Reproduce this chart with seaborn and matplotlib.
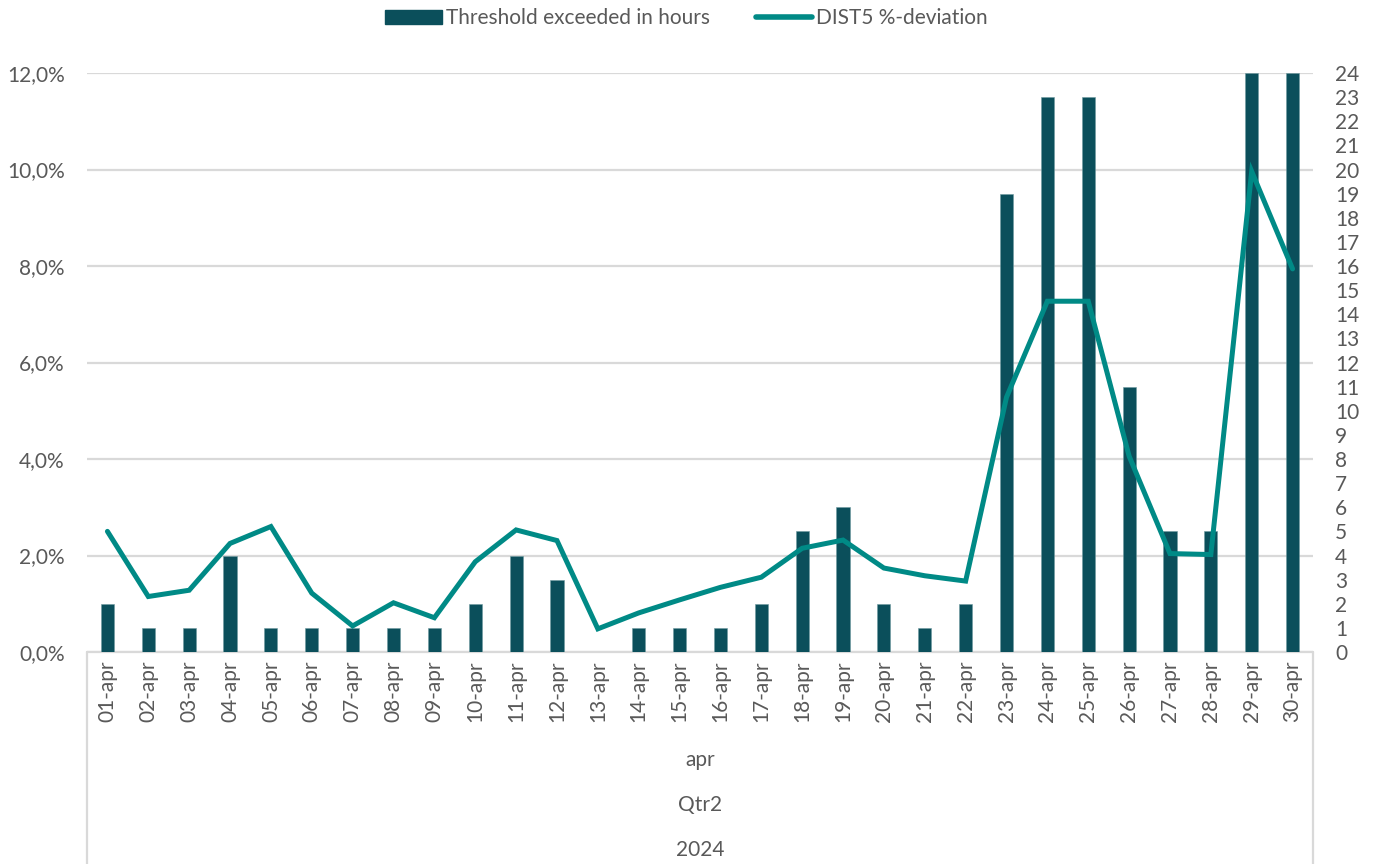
import matplotlib
matplotlib.use("Agg")
import matplotlib.pyplot as plt
import seaborn as sns
import pandas as pd
from matplotlib.ticker import MultipleLocator, FuncFormatter
from matplotlib.patches import Patch
from matplotlib.lines import Line2D

# ---------------- data ----------------
days = ["01-apr", "02-apr", "03-apr", "04-apr", "05-apr", "06-apr", "07-apr", "08-apr",
        "09-apr", "10-apr", "11-apr", "12-apr", "13-apr", "14-apr", "15-apr", "16-apr",
        "17-apr", "18-apr", "19-apr", "20-apr", "21-apr", "22-apr", "23-apr", "24-apr",
        "25-apr", "26-apr", "27-apr", "28-apr", "29-apr", "30-apr"]
hours_exceeded = [2, 1, 1, 4, 1, 1, 1, 1, 1, 2, 4, 3, 0, 1, 1, 1,
                  2, 5, 6, 2, 1, 2, 19, 23, 23, 11, 5, 5, 24, 24]
dist5_deviation = [2.50, 1.15, 1.28, 2.25, 2.60, 1.22, 0.54, 1.02, 0.71, 1.87, 2.53, 2.31,
                   0.48, 0.81, 1.08, 1.34, 1.55, 2.15, 2.32, 1.74, 1.58, 1.47, 5.28, 7.27,
                   7.27, 4.06, 2.04, 2.02, 9.96, 7.94]
hierarchy_labels = ["apr", "Qtr2", "2024"]
bar_label = "Threshold exceeded in hours"
line_label = "DIST5 %-deviation"

df = pd.DataFrame({"day": days, "hours": hours_exceeded, "dev": dist5_deviation})

# ---------------- style ----------------
BAR_C = "#0B4F5B"
LINE_C = "#008A86"
TXT_C = "#595959"
GRID_C = "#D9D9D9"
FS = 15

sns.set_theme(style="white")
plt.rcParams["font.family"] = ["Lato", "DejaVu Sans"]
plt.rcParams["text.color"] = TXT_C
plt.rcParams["xtick.color"] = TXT_C
plt.rcParams["ytick.color"] = TXT_C

fig = plt.figure(figsize=(13.73, 8.64), dpi=100)
ax = fig.add_axes([87 / 1373, 212 / 864, 1226 / 1373, 579 / 864])  # bars (hours), right ticks
ax2 = ax.twinx()  # line (percent), left ticks

sns.barplot(data=df, x="day", y="hours", ax=ax, color=BAR_C, width=0.32,
            saturation=1, edgecolor="#6F9AA0", linewidth=0.4, zorder=2)
sns.lineplot(data=df, x="day", y="dev", ax=ax2, color=LINE_C, linewidth=3.6,
             sort=False, zorder=3, solid_joinstyle="miter")

ax.set_xlim(-0.5, len(days) - 0.5)
ax.set_ylim(0, 24)
ax2.set_ylim(0, 12)

# hours axis on the right
ax.yaxis.tick_right()
ax.yaxis.set_label_position("right")
ax.yaxis.set_major_locator(MultipleLocator(1))
ax.yaxis.set_minor_locator(MultipleLocator(4))
ax.yaxis.remove_overlapping_locs = False
ax.grid(False)
ax.grid(which="minor", axis="y", color=GRID_C, linewidth=1.6, zorder=0)
ax.tick_params(axis="y", which="both", length=0, pad=16, labelsize=FS, colors=TXT_C)
ax.set_axisbelow(True)

# percent axis on the left
ax2.yaxis.tick_left()
ax2.yaxis.set_label_position("left")
ax2.yaxis.set_major_locator(MultipleLocator(2))
ax2.yaxis.set_major_formatter(FuncFormatter(lambda v, p: f"{v:.1f}%".replace(".", ",")))
ax2.tick_params(axis="y", length=0, pad=16, labelsize=FS, colors=TXT_C)
ax2.grid(False)

ax.set_xlabel("")
ax.set_ylabel("")
ax2.set_xlabel("")
ax2.set_ylabel("")
ax.tick_params(axis="x", length=0, pad=6, labelsize=FS, labelrotation=90, colors=TXT_C)
for lab in ax.get_xticklabels():
    lab.set_va("top")

for a in (ax, ax2):
    for s in a.spines.values():
        s.set_visible(False)

# category axis frame (Excel multi-level axis)
ax.plot([0, 1], [0, 0], transform=ax.transAxes, color=GRID_C, lw=1.6, clip_on=False, zorder=1)
for xx in (0, 1):
    ax.plot([xx, xx], [0, -0.37], transform=ax.transAxes, color=GRID_C, lw=1.6, clip_on=False)

for lab, ypix in zip(hierarchy_labels, [760, 805, 850]):
    fig.text(0.5 * (87 + 1313) / 1373, 1 - ypix / 864, lab, ha="center", va="center",
             fontsize=FS, color=TXT_C)

handles = [Patch(facecolor=BAR_C, edgecolor=BAR_C),
           Line2D([0], [0], color=LINE_C, lw=4, solid_capstyle="round")]
fig.legend(handles, [bar_label, line_label], loc="center", bbox_to_anchor=(0.5, 1 - 18 / 864),
           ncol=2, frameon=False, fontsize=FS, handlelength=2.7, handleheight=0.65,
           columnspacing=2.2, handletextpad=0.2)

fig.savefig("out.png", dpi=100)
